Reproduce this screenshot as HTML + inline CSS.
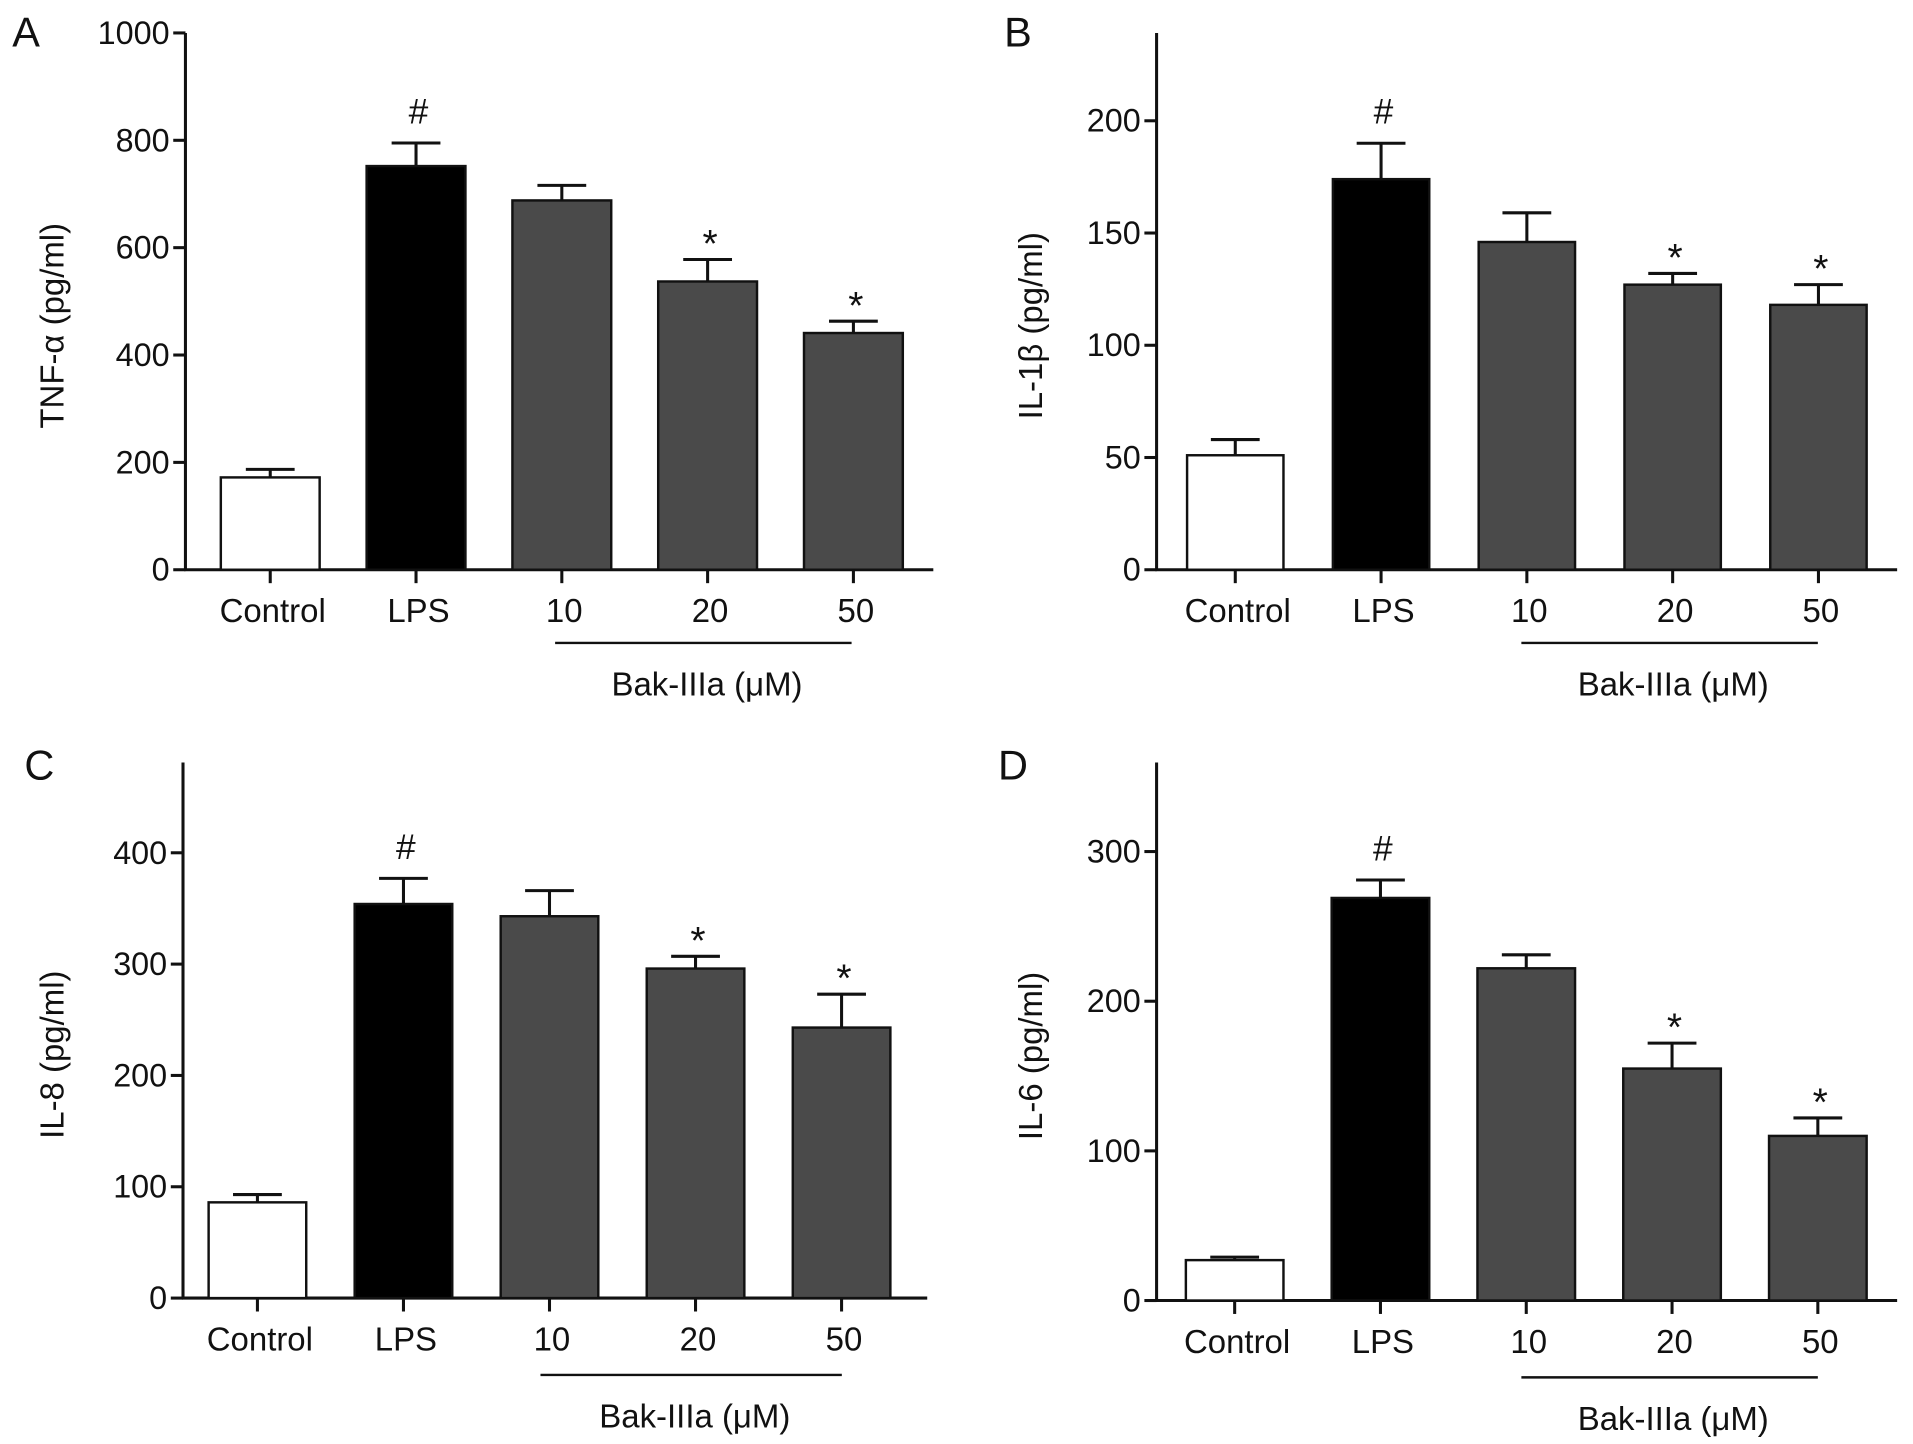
<!DOCTYPE html>
<html><head><meta charset="utf-8"><style>
html,body{margin:0;padding:0;background:#fff;}
svg{display:block;}
text{font-family:"Liberation Sans",Arial,sans-serif;fill:#111;}
</style></head><body>
<svg id="fig" width="1913" height="1444" viewBox="0 0 1568 1183.6" preserveAspectRatio="none" xmlns="http://www.w3.org/2000/svg"></svg>
<script>
const categories = ["Control","LPS","10","20","50"];
const aValues = [172, 752, 688, 537, 441];
const aErrors = [15, 43, 28, 41, 22];
const bValues = [51, 174, 146, 127, 118];
const bErrors = [7, 16, 13, 5, 9];
const cValues = [86, 354, 343, 296, 243];
const cErrors = [7, 23, 23, 11, 30];
const dValues = [27, 269, 222, 155, 110];
const dErrors = [2, 12, 9, 17, 12];
const aTicks = [0, 200, 400, 600, 800, 1000];
const bTicks = [0, 50, 100, 150, 200];
const cTicks = [0, 100, 200, 300, 400];
const dTicks = [0, 100, 200, 300];
const aSig = ["", "#", "", "*", "*"];
const bSig = ["", "#", "", "*", "*"];
const cSig = ["", "#", "", "*", "*"];
const dSig = ["", "#", "", "*", "*"];

const svg = document.getElementById('fig');
const NS = "http://www.w3.org/2000/svg";
function mk(tag, attrs, txt){
  const e = document.createElementNS(NS, tag);
  for (const k in attrs) e.setAttribute(k, attrs[k]);
  if (txt !== undefined) e.textContent = txt;
  svg.appendChild(e);
  return e;
}
const fills = ["#fff", "#000", "#4a4a4a", "#4a4a4a", "#4a4a4a"];
const INK = '#111';

function panel(cfg){
  const {id, letter, lx, ly, ax, y0, yTop, axEnd, vMax, pxMax, ticks, values, errors, sig, ylabel, ylx, firstBarX, barStep, barW, brX1, brX2, brY} = cfg;
  const yScale = v => y0 - (v / vMax) * (y0 - pxMax);
  const xCenter = i => firstBarX + barW/2 + i*barStep;
  let e;
  e = mk('text', {x: lx, y: ly, 'font-size': 34}, letter);
  
  
  e = mk('line', {x1: ax, y1: y0+1, x2: ax, y2: yTop, stroke: INK, 'stroke-width': 2.5});
  
  
  e = mk('line', {x1: ax-1, y1: y0, x2: axEnd, y2: y0, stroke: INK, 'stroke-width': 2.5});
  
  
  ticks.forEach(t => {
    const y = yScale(t);
    e = mk('line', {x1: ax-10, y1: y, x2: ax, y2: y, stroke: INK, 'stroke-width': 2.5});
    
    
    e = mk('text', {x: ax-13, y: y+9, 'font-size': 26.5, 'text-anchor': 'end'}, String(t));
    
    
  });
  const cy = (y0 + yTop)/2 + 20;
  e = mk('text', {x: ylx, y: cy, 'font-size': 27, 'text-anchor': 'middle', transform: `rotate(-90 ${ylx} ${cy})`}, ylabel);
  
  
  values.forEach((v, i) => {
    const cx = xCenter(i);
    const yt = yScale(v), ye = yScale(v + errors[i]);
    e = mk('line', {x1: cx, y1: yt, x2: cx, y2: ye, stroke: INK, 'stroke-width': 2.5});
    
    
    e = mk('line', {x1: cx-20, y1: ye, x2: cx+20, y2: ye, stroke: INK, 'stroke-width': 2.5});
    
    
    e = mk('rect', {x: cx - barW/2, y: yt, width: barW, height: y0 - yt, fill: fills[i], stroke: INK, 'stroke-width': 2});
    
    
    e = mk('line', {x1: cx, y1: y0, x2: cx, y2: y0+11, stroke: INK, 'stroke-width': 2.5});
    
    
    e = mk('text', {x: cx + 2, y: y0 + 43, 'font-size': 27, 'text-anchor': 'middle'}, categories[i]);
    
    
    if (sig[i]) {
      const big = sig[i] === '#';
      e = mk('text', {x: cx + 2, y: ye - (big ? 16 : 2), 'font-size': big ? 29 : 32, 'text-anchor': 'middle'}, sig[i]);
      
      
    }
  });
  e = mk('line', {x1: brX1, y1: brY, x2: brX2, y2: brY, stroke: INK, 'stroke-width': 2});
  
  
  e = mk('text', {x: (brX1+brX2)/2 + 3, y: brY + 43, 'font-size': 27, 'text-anchor': 'middle'}, 'Bak-IIIa (\u03bcM)');
  
  
}

panel({id:'a', letter:'A', lx:10, ly:38, ax:152, y0:467, yTop:27, axEnd:765, vMax:1000, pxMax:27, ticks:aTicks, values:aValues, errors:aErrors, sig:aSig, ylabel:'TNF-\u03b1 (pg/ml)', ylx:52, firstBarX:181, barStep:119.5, barW:81, brX1:455, brX2:698, brY:527});
panel({id:'b', letter:'B', lx:823, ly:38, ax:948, y0:467, yTop:27, axEnd:1555, vMax:200, pxMax:99, ticks:bTicks, values:bValues, errors:bErrors, sig:bSig, ylabel:'IL-1\u03b2 (pg/ml)', ylx:854, firstBarX:973, barStep:119.5, barW:79, brX1:1247, brX2:1490, brY:527});
panel({id:'c', letter:'C', lx:20, ly:639, ax:150, y0:1064, yTop:625, axEnd:760, vMax:400, pxMax:699, ticks:cTicks, values:cValues, errors:cErrors, sig:cSig, ylabel:'IL-8 (pg/ml)', ylx:52, firstBarX:171, barStep:119.7, barW:80, brX1:443, brX2:690, brY:1127});
panel({id:'d', letter:'D', lx:818, ly:639, ax:948, y0:1066, yTop:625, axEnd:1555, vMax:300, pxMax:698, ticks:dTicks, values:dValues, errors:dErrors, sig:dSig, ylabel:'IL-6 (pg/ml)', ylx:854, firstBarX:972, barStep:119.5, barW:80, brX1:1247, brX2:1490, brY:1129});
</script>
</body></html>
